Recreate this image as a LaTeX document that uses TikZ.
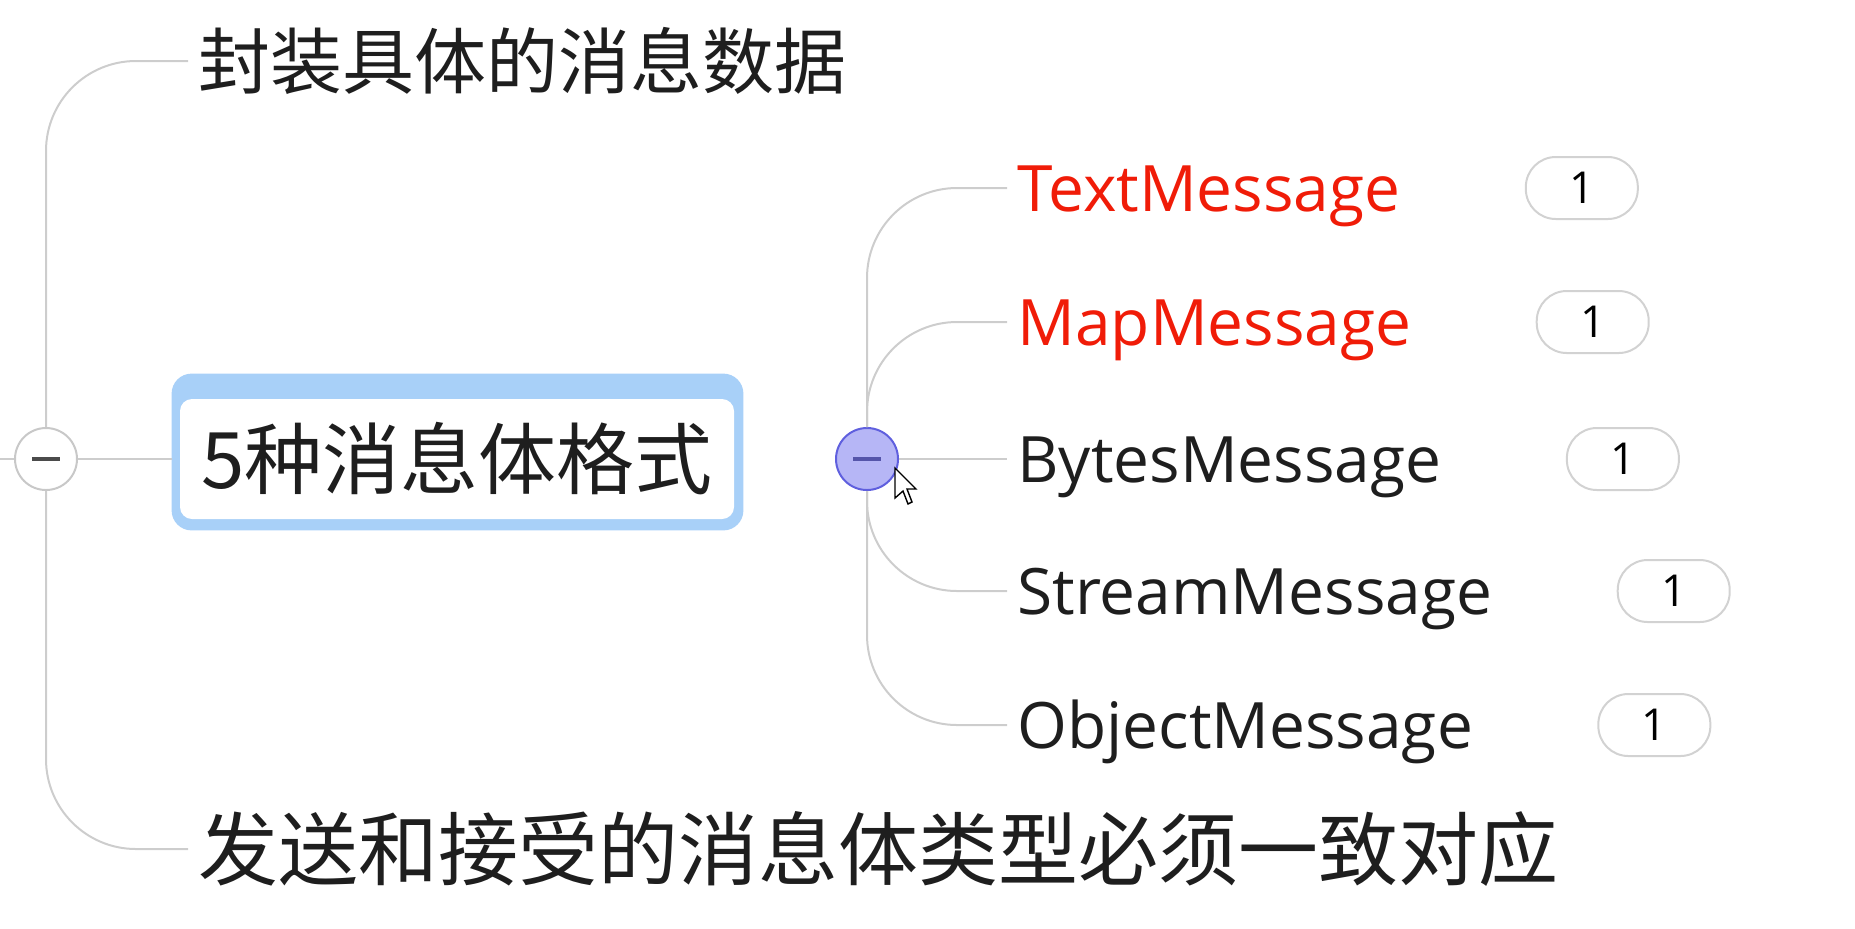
\documentclass[tikz,border=0pt]{standalone}
\usepackage{fontspec}
\setmainfont{Open Sans}
\newfontfamily\cjk{Noto Sans CJK SC}
\usepackage{tikz}
\usetikzlibrary{positioning,backgrounds,calc}
\definecolor{linegray}{RGB}{205,205,205}
\definecolor{foldgray}{RGB}{200,200,200}
\definecolor{dashgray}{RGB}{75,75,75}
\definecolor{subfill}{RGB}{182,182,246}
\definecolor{subdraw}{RGB}{95,95,222}
\definecolor{subdash}{RGB}{85,85,170}
\definecolor{boxblue}{RGB}{168,208,248}
\definecolor{msgred}{RGB}{240,28,8}
\definecolor{textdark}{RGB}{30,30,30}
\definecolor{badgegray}{RGB}{210,210,210}

\begin{document}
\begin{tikzpicture}[x=0.5pt,y=-0.5pt,
                    link/.style={draw=linegray,line width=1pt,rounded corners=45pt},
                    fold/.style={circle,draw=foldgray,fill=white,line width=1pt,minimum size=31pt,inner sep=0pt,
                                 path picture={\draw[line width=1.6pt,draw=dashgray] ([xshift=-7pt]path picture bounding box.center) -- ([xshift=7pt]path picture bounding box.center);}},
                    subfold/.style={circle,draw=subdraw,fill=subfill,line width=1pt,minimum size=31pt,inner sep=0pt,
                                 path picture={\draw[line width=1.6pt,draw=subdash] ([xshift=-7pt]path picture bounding box.center) -- ([xshift=7pt]path picture bounding box.center);}},
                    cjklabel/.style={anchor=west,inner sep=0pt,inner xsep=5pt,text=textdark},
                    fmtbox/.style={fill=white,rounded corners=6pt,minimum width=277pt,minimum height=60pt,inner sep=0pt,
                                   text=textdark,font=\cjk\fontsize{39pt}{44pt}\selectfont},
                    msg/.style={anchor=west,inner sep=0pt,inner xsep=5pt,text height=23pt,text depth=0pt,
                                font=\fontsize{32pt}{38pt}\selectfont},
                    count/.style={draw=badgegray,line width=1pt,rounded corners=15pt,minimum width=56pt,minimum height=31pt,
                                  inner sep=0pt,text=black,font=\fontsize{22pt}{26pt}\selectfont},
                    cursor/.style={draw=black,fill=white,line width=0.7pt,line join=miter}]
  \useasboundingbox (0,0) rectangle (1855,928);

  \coordinate (in) at (0,459);
  \node[fold] (root) at (46,459) {};
  \node[cjklabel,font=\cjk\fontsize{36pt}{40pt}\selectfont] (data) at (188,61) {封装具体的消息数据};
  \node[fmtbox] (fmt) at (457,459) {5种消息体格式};
  \node[cjklabel,font=\cjk\fontsize{40pt}{44pt}\selectfont] (send) at (188,849) {发送和接受的消息体类型必须一致对应};

  \begin{scope}[on background layer]
    \fill[boxblue,rounded corners=10pt] ($(fmt.north west)+(-8,-25)$) rectangle ($(fmt.south east)+(9,11)$);
  \end{scope}

  \draw[link] (in) -- (root.west);
  \draw[link] (root.north) |- (data.west);
  \draw[link] (root.south) |- (send.west);
  \draw[link] (root.east) -- ($(fmt.west)+(-8,0)$);

  \node[subfold] (sub) at (867,459) {};
  \foreach \i/\name/\col/\ypos in {1/TextMessage/msgred/188,2/MapMessage/msgred/322,3/BytesMessage/textdark/459,
                                   4/StreamMessage/textdark/591,5/ObjectMessage/textdark/725}
    \node[msg,text=\col] (m\i) at (1007,\ypos) {\name};
  \foreach \i in {1,...,5}
    \node[count,right=57pt of m\i] (c\i) {1};

  \draw[link] (sub.north) |- (m1.west);
  \draw[link] (sub.north) |- (m2.west);
  \draw[link] (sub.east) -- (m3.west);
  \draw[link] (sub.south) |- (m4.west);
  \draw[link] (sub.south) |- (m5.west);

  \draw[cursor] (895,468) -- ++(0,30) -- ++(8,-7) -- ++(5,13) -- ++(4,-2) -- ++(-5,-13) -- ++(9,0) -- cycle;
\end{tikzpicture}
\end{document}
